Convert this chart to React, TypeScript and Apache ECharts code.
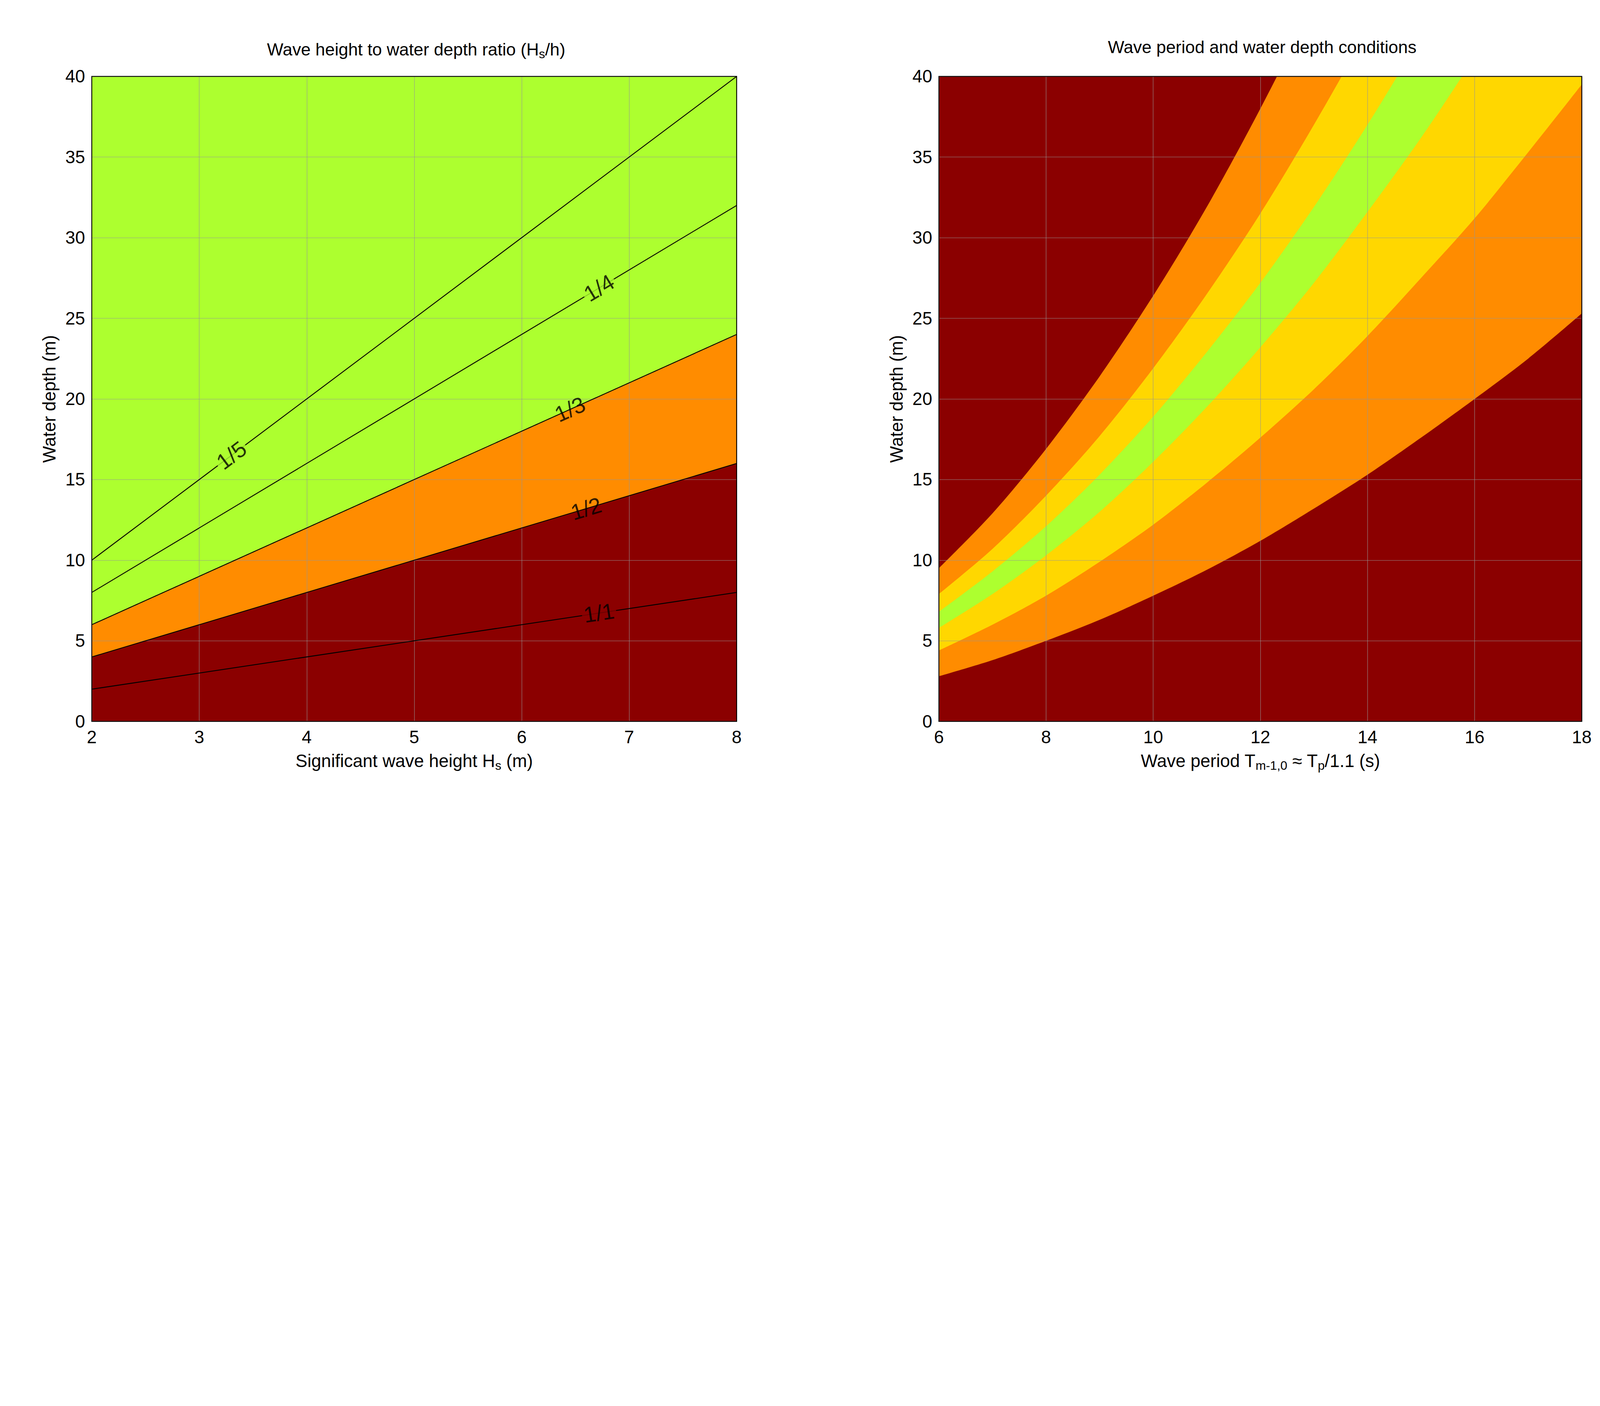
import { useEffect, useRef } from "react";
import * as echarts from "echarts";

// left chart: wave height to depth ratio
const hsRange = [2, 8];
const ratioDepths = [
  { name: "1/1", k: 1, at: [2, 8], ys: [2, 8], lx: 6.72 },
  { name: "1/2", k: 2, at: [2, 8], ys: [4, 16], lx: 6.6 },
  { name: "1/3", k: 3, at: [2, 8], ys: [6, 24], lx: 6.45 },
  { name: "1/4", k: 4, at: [2, 8], ys: [8, 32], lx: 6.72 },
  { name: "1/5", k: 5, at: [2, 8], ys: [10, 40], lx: 3.3 },
];
const labelAngles = [8.5, 16.7, 24.2, 31, 36.9];
const labelBg = ["#8B0000", "transparent", "transparent", "#ADFF2F", "#ADFF2F"];

// right chart: wave period boundaries (depth at each period)
const periods = [6, 7, 8, 9, 10, 11, 12, 13, 14, 15, 16, 17, 18];
const bound1 = [2.8, 3.8, 5.0, 6.3, 7.8, 9.4, 11.2, 13.2, 15.3, 17.6, 20.0, 22.5, 25.3];
const bound2 = [4.4, 6.0, 7.8, 9.9, 12.2, 14.8, 17.6, 20.6, 23.9, 27.5, 31.2, 35.3, 39.5];
const bound3 = [5.8, 7.9, 10.3, 13.0, 16.1, 19.5, 23.2, 27.2, 31.6, 36.2, 41.2, 46.5, 52.2];
const bound4 = [6.8, 9.3, 12.1, 15.3, 18.9, 22.9, 27.2, 31.9, 37.0, 42.5, 48.4, 54.6, 61.2];
const bound5 = [7.9, 10.7, 14.0, 17.7, 21.9, 26.5, 31.5, 37.0, 42.9, 49.3, 56.1, 63.3, 71.0];
const bound6 = [9.5, 12.9, 16.9, 21.4, 26.4, 31.9, 38.0, 44.6, 51.7, 59.4, 67.6, 76.3, 85.5];

const DARK = "#8B0000";
const ORANGE = "#FF8C00";
const YELLOW = "#FFD700";
const GREEN = "#ADFF2F";
const FONT = "Liberation Sans, Arial, sans-serif";

function area(xi: number, xs: number[], ys: number[], color: string, z: number) {
  return {
    type: "line",
    xAxisIndex: xi,
    yAxisIndex: xi,
    data: xs.map((x, i) => [x, ys[i]]),
    symbol: "none",
    smooth: xi === 1 ? 0.3 : false,
    lineStyle: { width: 0 },
    areaStyle: { color, opacity: 1 },
    clip: true,
    z,
  };
}

export default function App() {
  const ref = useRef<HTMLDivElement>(null);

  useEffect(() => {
    if (!ref.current) return;
    const chart = echarts.init(ref.current, null, { renderer: "svg" });
    const W = ref.current.clientWidth;
    const H = ref.current.clientHeight;
    const s = Math.min(W / 7200, H / 3600);
    const px = (v: number) => v * s;

    const rich = {
      sub: { fontSize: px(56), verticalAlign: "bottom", padding: [px(40), 0, 0, 0], color: "#000", fontFamily: FONT },
    };
    const axisBase = (extra: any) => ({
      type: "value",
      z: 5,
      axisLine: { show: false },
      axisTick: { show: false },
      splitLine: { show: true, lineStyle: { color: "rgba(150,150,150,0.6)", width: px(3) } },
      axisLabel: { fontSize: px(80), color: "#000", fontFamily: FONT, margin: px(30) },
      nameTextStyle: { fontSize: px(80), color: "#000", fontFamily: FONT, rich },
      nameLocation: "middle",
      ...extra,
    });

    const series: any[] = [
      area(0, hsRange, [40, 40], GREEN, 1),
      area(0, ratioDepths[2].at, ratioDepths[2].ys, ORANGE, 1.1),
      area(0, ratioDepths[1].at, ratioDepths[1].ys, DARK, 1.2),
      ...ratioDepths.map((r) => ({
        type: "line",
        xAxisIndex: 0,
        yAxisIndex: 0,
        data: r.at.map((x, i) => [x, r.ys[i]]),
        symbol: "none",
        lineStyle: { color: "#000", width: px(4) },
        z: 6,
      })),
      {
        type: "scatter",
        xAxisIndex: 0,
        yAxisIndex: 0,
        symbolSize: 0,
        z: 10,
        data: ratioDepths.map((r, i) => ({
          value: [r.lx, r.lx * r.k],
          label: {
            show: true,
            position: "inside",
            formatter: r.name,
            rotate: labelAngles[i],
            fontSize: px(100),
            color: "#000",
            fontFamily: FONT,
            backgroundColor: labelBg[i],
            padding: [0, px(8)],
          },
        })),
      },
      area(1, [6, 18], [40, 40], DARK, 1),
      area(1, periods, bound6, ORANGE, 1.1),
      area(1, periods, bound5, YELLOW, 1.2),
      area(1, periods, bound4, GREEN, 1.3),
      area(1, periods, bound3, YELLOW, 1.4),
      area(1, periods, bound2, ORANGE, 1.5),
      area(1, periods, bound1, DARK, 1.6),
    ];

    chart.setOption({
      animation: false,
      backgroundColor: "#fff",
      title: [
        {
          text: "Wave height to water depth ratio (H{sub|s}/h)",
          left: px(1864),
          top: px(165),
          textAlign: "center",
          textStyle: { fontSize: px(78), fontWeight: "normal", color: "#000", fontFamily: FONT, rich },
        },
        {
          text: "Wave period and water depth conditions",
          left: px(5671),
          top: px(165),
          textAlign: "center",
          textStyle: { fontSize: px(78), fontWeight: "normal", color: "#000", fontFamily: FONT },
        },
      ],
      grid: [
        { left: px(413), width: px(2902), top: px(344), height: px(2903), show: true, borderColor: "#000", borderWidth: px(4), backgroundColor: "transparent", z: 20 },
        { left: px(4225), width: px(2893), top: px(344), height: px(2903), show: true, borderColor: "#000", borderWidth: px(4), backgroundColor: "transparent", z: 20 },
      ],
      xAxis: [
        axisBase({ gridIndex: 0, min: 2, max: 8, interval: 1, name: "Significant wave height H{sub|s} (m)", nameGap: px(130) }),
        axisBase({ gridIndex: 1, min: 6, max: 18, interval: 2, name: "Wave period T{sub|m-1,0} ≈ T{sub|p}/1.1 (s)", nameGap: px(130) }),
      ],
      yAxis: [
        axisBase({ gridIndex: 0, min: 0, max: 40, interval: 5, name: "Water depth (m)", nameGap: px(150) }),
        axisBase({ gridIndex: 1, min: 0, max: 40, interval: 5, name: "Water depth (m)", nameGap: px(150) }),
      ],
      series,
    });

    return () => chart.dispose();
  }, []);

  return <div ref={ref} style={{ position: "fixed", left: 0, top: 0, width: "100vw", height: "100vh" }} />;
}
